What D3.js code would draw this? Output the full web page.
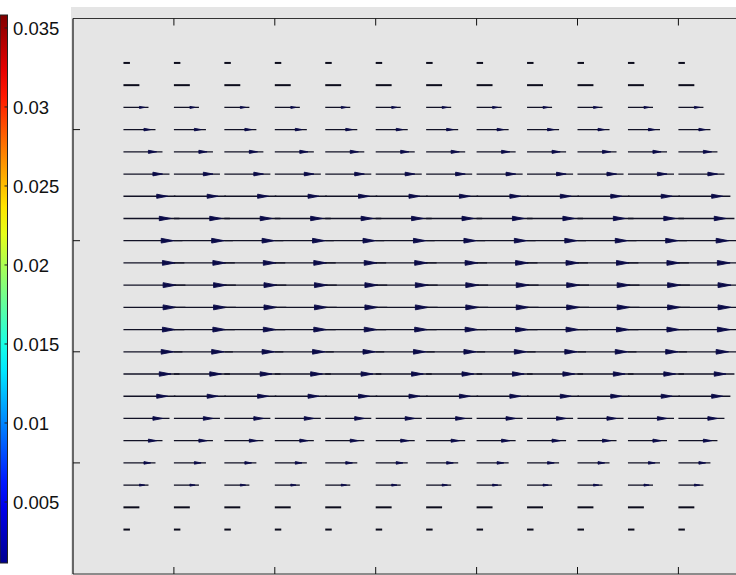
<!DOCTYPE html>
<html>
<head>
<meta charset="utf-8">
<script src="https://cdn.jsdelivr.net/npm/d3@7"></script>
<style>
  body { margin: 0; background: #fff; }
  svg { display: block; }
</style>
</head>
<body>
<div id="chart-container"></div>
<script>
// Grid positions of the quiver (column / row coordinates)
const xCols = [1, 2, 3, 4, 5, 6, 7, 8, 9, 10, 11, 12];
const yRows = [1, 2, 3, 4, 5, 6, 7, 8, 9, 10, 11, 12, 13, 14, 15, 16, 17, 18, 19, 20, 21, 22];

// Horizontal velocity per row (same for each column)
const uRow = [0.0037, 0.0091, 0.0143, 0.0183, 0.0223, 0.0263, 0.0297, 0.0320, 0.0337, 0.0348, 0.0354,
              0.0354, 0.0348, 0.0337, 0.0320, 0.0297, 0.0263, 0.0223, 0.0183, 0.0143, 0.0091, 0.0037];
// Vertical velocity per row
const vRow = [0, 0, 0, 0, 0, 0, 0, 0, 0, 0, 0, 0, 0, 0, 0, 0, 0, 0, 0, 0, 0, 0];

// Axis ticks (unlabelled)
const xTicks = [2, 4, 6, 8, 10, 12];
const yTicks = [4, 9, 14, 19];

// Colorbar
const cbarDomain = [0.00114, 0.03582];
const cbarTicks = [0.005, 0.01, 0.015, 0.02, 0.025, 0.03, 0.035];

const W = 736, H = 575;
const quiverScale = 34.7; // data units of x per unit of velocity

const svg = d3.select("#chart-container")
  .append("svg")
  .attr("width", W)
  .attr("height", H);

svg.append("rect").attr("width", W).attr("height", H).attr("fill", "#fff");

// jet colormap
const jet = d3.scaleLinear()
  .domain([0, 0.125, 0.375, 0.625, 0.875, 1])
  .range(["#00008f", "#0000ff", "#00ffff", "#ffff00", "#ff0000", "#800000"]);

// ---- colorbar ----
const cb = { x: 0, w: 7.5, top: 15, bottom: 563 };
const cbY = d3.scaleLinear().domain(cbarDomain).range([cb.bottom, cb.top]);

const defs = svg.append("defs");
const grad = defs.append("linearGradient")
  .attr("id", "jetgrad")
  .attr("x1", 0).attr("y1", 1).attr("x2", 0).attr("y2", 0);
d3.range(0, 1.0001, 0.05).forEach(t => {
  grad.append("stop").attr("offset", t).attr("stop-color", jet(t));
});

svg.append("rect")
  .attr("x", cb.x).attr("y", cb.top)
  .attr("width", cb.w).attr("height", cb.bottom - cb.top)
  .attr("fill", "url(#jetgrad)")
  .attr("stroke", "#222")
  .attr("stroke-width", 1);

const cbTick = svg.append("g");
cbTick.selectAll("line")
  .data(cbarTicks)
  .enter().append("line")
  .attr("x1", cb.w - 3).attr("x2", cb.w + 0.5)
  .attr("y1", d => cbY(d)).attr("y2", d => cbY(d))
  .attr("stroke", "#222");

cbTick.selectAll("text")
  .data(cbarTicks)
  .enter().append("text")
  .attr("x", 13)
  .attr("y", d => cbY(d))
  .attr("dy", "0.36em")
  .style("font-family", "'Liberation Sans', Arial, sans-serif")
  .style("font-size", "18.5px")
  .attr("fill", "#111")
  .text(d => d3.format("")(d));

// ---- axes ----
const ax = { left: 73, top: 18.5, bottom: 574 };
const colStep = 50.45;
const x = d3.scaleLinear().domain([0, 14]).range([ax.left, ax.left + 14 * colStep]);
const y = d3.scaleLinear().domain([-1, 24]).range([ax.bottom, ax.top]);

svg.append("rect")
  .attr("x", 71).attr("y", 7)
  .attr("width", W - 71).attr("height", H - 7)
  .attr("fill", "#e5e5e5");

const tickLen = 7;
const axisColor = "#333";

// frame
svg.append("line").attr("x1", ax.left).attr("x2", W).attr("y1", ax.top).attr("y2", ax.top)
  .attr("stroke", axisColor).attr("stroke-width", 1.2);
svg.append("line").attr("x1", ax.left).attr("x2", W).attr("y1", ax.bottom).attr("y2", ax.bottom)
  .attr("stroke", axisColor).attr("stroke-width", 1.2);
svg.append("line").attr("x1", ax.left).attr("x2", ax.left).attr("y1", ax.top).attr("y2", ax.bottom)
  .attr("stroke", "#111").attr("stroke-width", 1.2);

// inward ticks, top and bottom
const tickG = svg.append("g").attr("stroke", "#111").attr("stroke-width", 1);
tickG.selectAll(".xtb")
  .data(xTicks)
  .enter().append("line")
  .attr("x1", d => x(d)).attr("x2", d => x(d))
  .attr("y1", ax.bottom).attr("y2", ax.bottom - tickLen);
tickG.selectAll(".xtt")
  .data(xTicks)
  .enter().append("line")
  .attr("x1", d => x(d)).attr("x2", d => x(d))
  .attr("y1", ax.top).attr("y2", ax.top + tickLen);
tickG.selectAll(".yt")
  .data(yTicks)
  .enter().append("line")
  .attr("x1", ax.left).attr("x2", ax.left + tickLen)
  .attr("y1", d => y(d)).attr("y2", d => y(d));

// ---- quiver ----
const arrows = [];
yRows.forEach((yy, j) => {
  xCols.forEach(xx => {
    arrows.push({ x: xx, y: yy, u: uRow[j], v: vRow[j] });
  });
});

const qG = svg.append("g");
arrows.forEach(d => {
  const x0 = x(d.x), y0 = y(d.y);
  const x1 = x(d.x + d.u * quiverScale);
  const y1 = y(d.y + d.v * quiverScale);
  const L = x1 - x0;

  // very short arrows collapse into a heavy dash with no visible head
  if (L < 20) {
    qG.append("line")
      .attr("x1", x0).attr("y1", y0)
      .attr("x2", x1).attr("y2", y1)
      .attr("stroke", "#0c0c1c")
      .attr("stroke-width", 2);
    return;
  }

  qG.append("line")
    .attr("x1", x0).attr("y1", y0)
    .attr("x2", x1).attr("y2", y1)
    .attr("stroke", "#121226")
    .attr("stroke-width", 1.3);

  // arrow head, sitting a little behind the tip
  const a = x0 + 0.64 * L, b = x0 + 0.85 * L;
  const h = Math.max(1, Math.min(2.5, 0.04 * L));
  qG.append("path")
    .attr("d", `M${a},${y0 - h}L${b},${y0}L${a},${y0 + h}Z`)
    .attr("fill", "#0b0b48")
    .attr("stroke", "#0b0b48")
    .attr("stroke-width", 0.9);
});
</script>
</body>
</html>
